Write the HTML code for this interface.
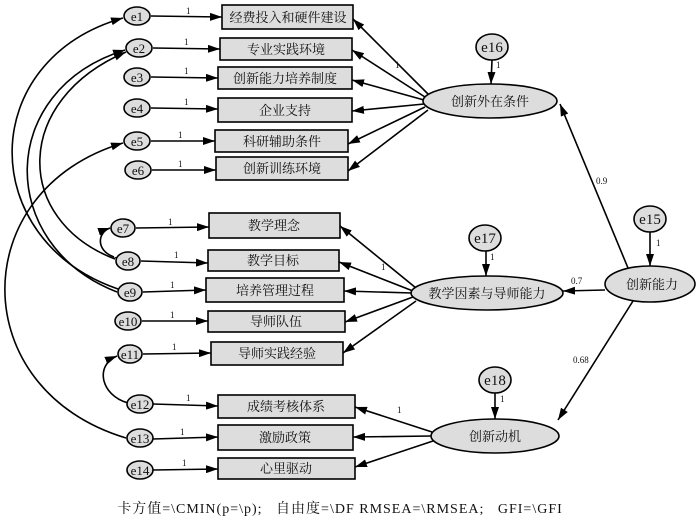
<!DOCTYPE html>
<html><head><meta charset="utf-8"><style>
body{margin:0;background:#fff;}
svg{display:block;}
text{font-family:"Liberation Serif","Noto Serif CJK SC","Noto Sans CJK SC",serif;fill:#111;}
.cn{font-size:13px;}
.e{font-size:13px;}
.n{font-size:9px;}
</style></head><body>
<svg width="700" height="521" viewBox="0 0 700 521" xmlns="http://www.w3.org/2000/svg">
<defs>
<marker id="a" viewBox="0 0 12 8" refX="12" refY="4" markerWidth="12" markerHeight="8" markerUnits="userSpaceOnUse" orient="auto"><path d="M0,0L12,4L0,8z" fill="#000"/></marker>
</defs>
<g stroke="#000" stroke-width="1.6" fill="none">
<!-- covariance curves -->
<path d="M118,289 C-24,240 -24,60 123,18" marker-end="url(#a)" marker-start="url(#a)"/>
<path d="M117,292 C-4,245 -4,90 125,50" marker-end="url(#a)" marker-start="url(#a)"/>
<path d="M115,259 C13,220 13,100 126,52" marker-end="url(#a)"/>
<path d="M126,438 C-35,390 -35,190 123,143" marker-end="url(#a)" marker-start="url(#a)"/>
<path d="M114,257 C95,250 98,232 110,228" marker-end="url(#a)" marker-start="url(#a)"/>
<path d="M128,403 C100,395 95,365 117,356" marker-end="url(#a)" marker-start="url(#a)"/>
<!-- e -> box -->
<path d="M151,16 L222,17" marker-end="url(#a)"/>
<path d="M153,48 L220,49" marker-end="url(#a)"/>
<path d="M151,77 L218,78" marker-end="url(#a)"/>
<path d="M151,108 L218,109" marker-end="url(#a)"/>
<path d="M151,141 L215,141" marker-end="url(#a)"/>
<path d="M152,170 L216,170" marker-end="url(#a)"/>
<path d="M136,228 L209,227" marker-end="url(#a)"/>
<path d="M141,261 L208,263" marker-end="url(#a)"/>
<path d="M143,292 L206,290" marker-end="url(#a)"/>
<path d="M142,321 L208,321" marker-end="url(#a)"/>
<path d="M143,354 L211,353" marker-end="url(#a)"/>
<path d="M153,404 L218,406" marker-end="url(#a)"/>
<path d="M153,439 L218,437" marker-end="url(#a)"/>
<path d="M153,470 L218,469" marker-end="url(#a)"/>
<!-- latent -> boxes -->
<path d="M428,94 L353,19" marker-end="url(#a)"/>
<path d="M425,97 L352,50" marker-end="url(#a)"/>
<path d="M424,100 L352,80" marker-end="url(#a)"/>
<path d="M424,104 L352,111" marker-end="url(#a)"/>
<path d="M425,107 L348,144" marker-end="url(#a)"/>
<path d="M428,110 L348,171" marker-end="url(#a)"/>
<path d="M416,288 L340,226" marker-end="url(#a)"/>
<path d="M413,291 L339,262" marker-end="url(#a)"/>
<path d="M412,293 L344,291" marker-end="url(#a)"/>
<path d="M413,297 L345,322" marker-end="url(#a)"/>
<path d="M416,301 L343,353" marker-end="url(#a)"/>
<path d="M432,432 L355,407" marker-end="url(#a)"/>
<path d="M431,436 L353,437" marker-end="url(#a)"/>
<path d="M433,441 L355,467" marker-end="url(#a)"/>
<!-- structural -->
<path d="M628,268 L560,104" marker-end="url(#a)"/>
<path d="M605,290 L563,291" marker-end="url(#a)"/>
<path d="M633,301 L558,420" marker-end="url(#a)"/>
<path d="M650,232 L650,266" marker-end="url(#a)"/>
<path d="M492,60 L491,84" marker-end="url(#a)"/>
<path d="M486,251 L486,276" marker-end="url(#a)"/>
<path d="M495,393 L495,419" marker-end="url(#a)"/>
</g>
<!-- boxes -->
<g fill="#ddd" stroke="#000" stroke-width="1.6">
<rect x="222" y="5" width="131" height="24"/>
<rect x="220" y="38" width="132" height="22"/>
<rect x="218" y="67" width="134" height="22"/>
<rect x="218" y="98" width="134" height="24"/>
<rect x="215" y="130" width="133" height="22"/>
<rect x="216" y="157" width="132" height="23"/>
<rect x="209" y="213" width="131" height="25"/>
<rect x="208" y="250" width="131" height="21"/>
<rect x="206" y="278" width="138" height="24"/>
<rect x="208" y="311" width="137" height="21"/>
<rect x="211" y="342" width="132" height="23"/>
<rect x="218" y="395" width="137" height="23"/>
<rect x="218" y="425" width="135" height="25"/>
<rect x="218" y="458" width="137" height="21"/>
</g>
<g class="cn" text-anchor="middle">
<text x="288" y="22">经费投入和硬件建设</text>
<text x="286" y="54">专业实践环境</text>
<text x="285" y="83">创新能力培养制度</text>
<text x="285" y="115">企业支持</text>
<text x="282" y="146">科研辅助条件</text>
<text x="282" y="173">创新训练环境</text>
<text x="274" y="230">教学理念</text>
<text x="273" y="265">教学目标</text>
<text x="275" y="295">培养管理过程</text>
<text x="276" y="326">导师队伍</text>
<text x="277" y="358">导师实践经验</text>
<text x="286" y="411">成绩考核体系</text>
<text x="285" y="442">激励政策</text>
<text x="286" y="473">心里驱动</text>
</g>
<!-- e nodes -->
<g fill="#ddd" stroke="#000" stroke-width="1.6">
<ellipse cx="137" cy="16" rx="13" ry="9"/>
<ellipse cx="139" cy="48" rx="13" ry="9"/>
<ellipse cx="137" cy="77" rx="13" ry="9"/>
<ellipse cx="137" cy="108" rx="13" ry="9"/>
<ellipse cx="137" cy="141" rx="13" ry="9"/>
<ellipse cx="138" cy="170" rx="13" ry="9"/>
<ellipse cx="123" cy="228" rx="12" ry="9"/>
<ellipse cx="128" cy="261" rx="12" ry="9"/>
<ellipse cx="130" cy="292" rx="12" ry="9"/>
<ellipse cx="128" cy="321" rx="13" ry="9"/>
<ellipse cx="130" cy="354" rx="12" ry="9"/>
<ellipse cx="140" cy="404" rx="13" ry="9"/>
<ellipse cx="140" cy="438" rx="13" ry="9"/>
<ellipse cx="140" cy="470" rx="13" ry="9"/>
<ellipse cx="492" cy="47" rx="16" ry="13"/>
<ellipse cx="485" cy="238" rx="16" ry="13"/>
<ellipse cx="495" cy="380" rx="16" ry="13"/>
<ellipse cx="650" cy="219" rx="16" ry="13"/>
<ellipse cx="490" cy="101" rx="67" ry="17"/>
<ellipse cx="487" cy="293" rx="76" ry="17"/>
<ellipse cx="495" cy="436" rx="64" ry="17"/>
<ellipse cx="650" cy="284" rx="45" ry="18"/>
</g>
<g class="e" text-anchor="middle">
<text x="137" y="21">e1</text><text x="139" y="53">e2</text><text x="137" y="82">e3</text>
<text x="137" y="113">e4</text><text x="137" y="146">e5</text><text x="138" y="175">e6</text>
<text x="123" y="233">e7</text><text x="128" y="266">e8</text><text x="130" y="297">e9</text>
<text x="128" y="326">e10</text><text x="130" y="359">e11</text><text x="140" y="409">e12</text>
<text x="140" y="443">e13</text><text x="140" y="475">e14</text>
<text x="492" y="52" font-size="15">e16</text><text x="485" y="243" font-size="15">e17</text>
<text x="495" y="385" font-size="15">e18</text><text x="650" y="224" font-size="15">e15</text>
</g>
<g class="cn" text-anchor="middle">
<text x="490" y="106">创新外在条件</text>
<text x="487" y="298">教学因素与导师能力</text>
<text x="495" y="441">创新动机</text>
<text x="652" y="289">创新能力</text>
</g>
<g class="n">
<text x="186" y="14">1</text><text x="184" y="45">1</text><text x="184" y="74">1</text>
<text x="184" y="105">1</text><text x="178" y="138">1</text><text x="178" y="167">1</text>
<text x="168" y="225">1</text><text x="174" y="258">1</text><text x="170" y="288">1</text>
<text x="170" y="318">1</text><text x="172" y="350">1</text><text x="186" y="401">1</text>
<text x="180" y="435">1</text><text x="182" y="466">1</text>
<text x="395" y="68">1</text><text x="381" y="270">1</text><text x="397" y="413">1</text>
<text x="496" y="68">1</text><text x="490" y="260">1</text><text x="500" y="402">1</text>
<text x="656" y="246">1</text>
<text x="596" y="184">0.9</text><text x="571" y="284">0.7</text><text x="573" y="363">0.68</text>
</g>
<text x="340" y="513" text-anchor="middle" font-size="14" letter-spacing="1" xml:space="preserve">卡方值=\CMIN(p=\p);   自由度=\DF RMSEA=\RMSEA;   GFI=\GFI</text>
</svg>
</body></html>
